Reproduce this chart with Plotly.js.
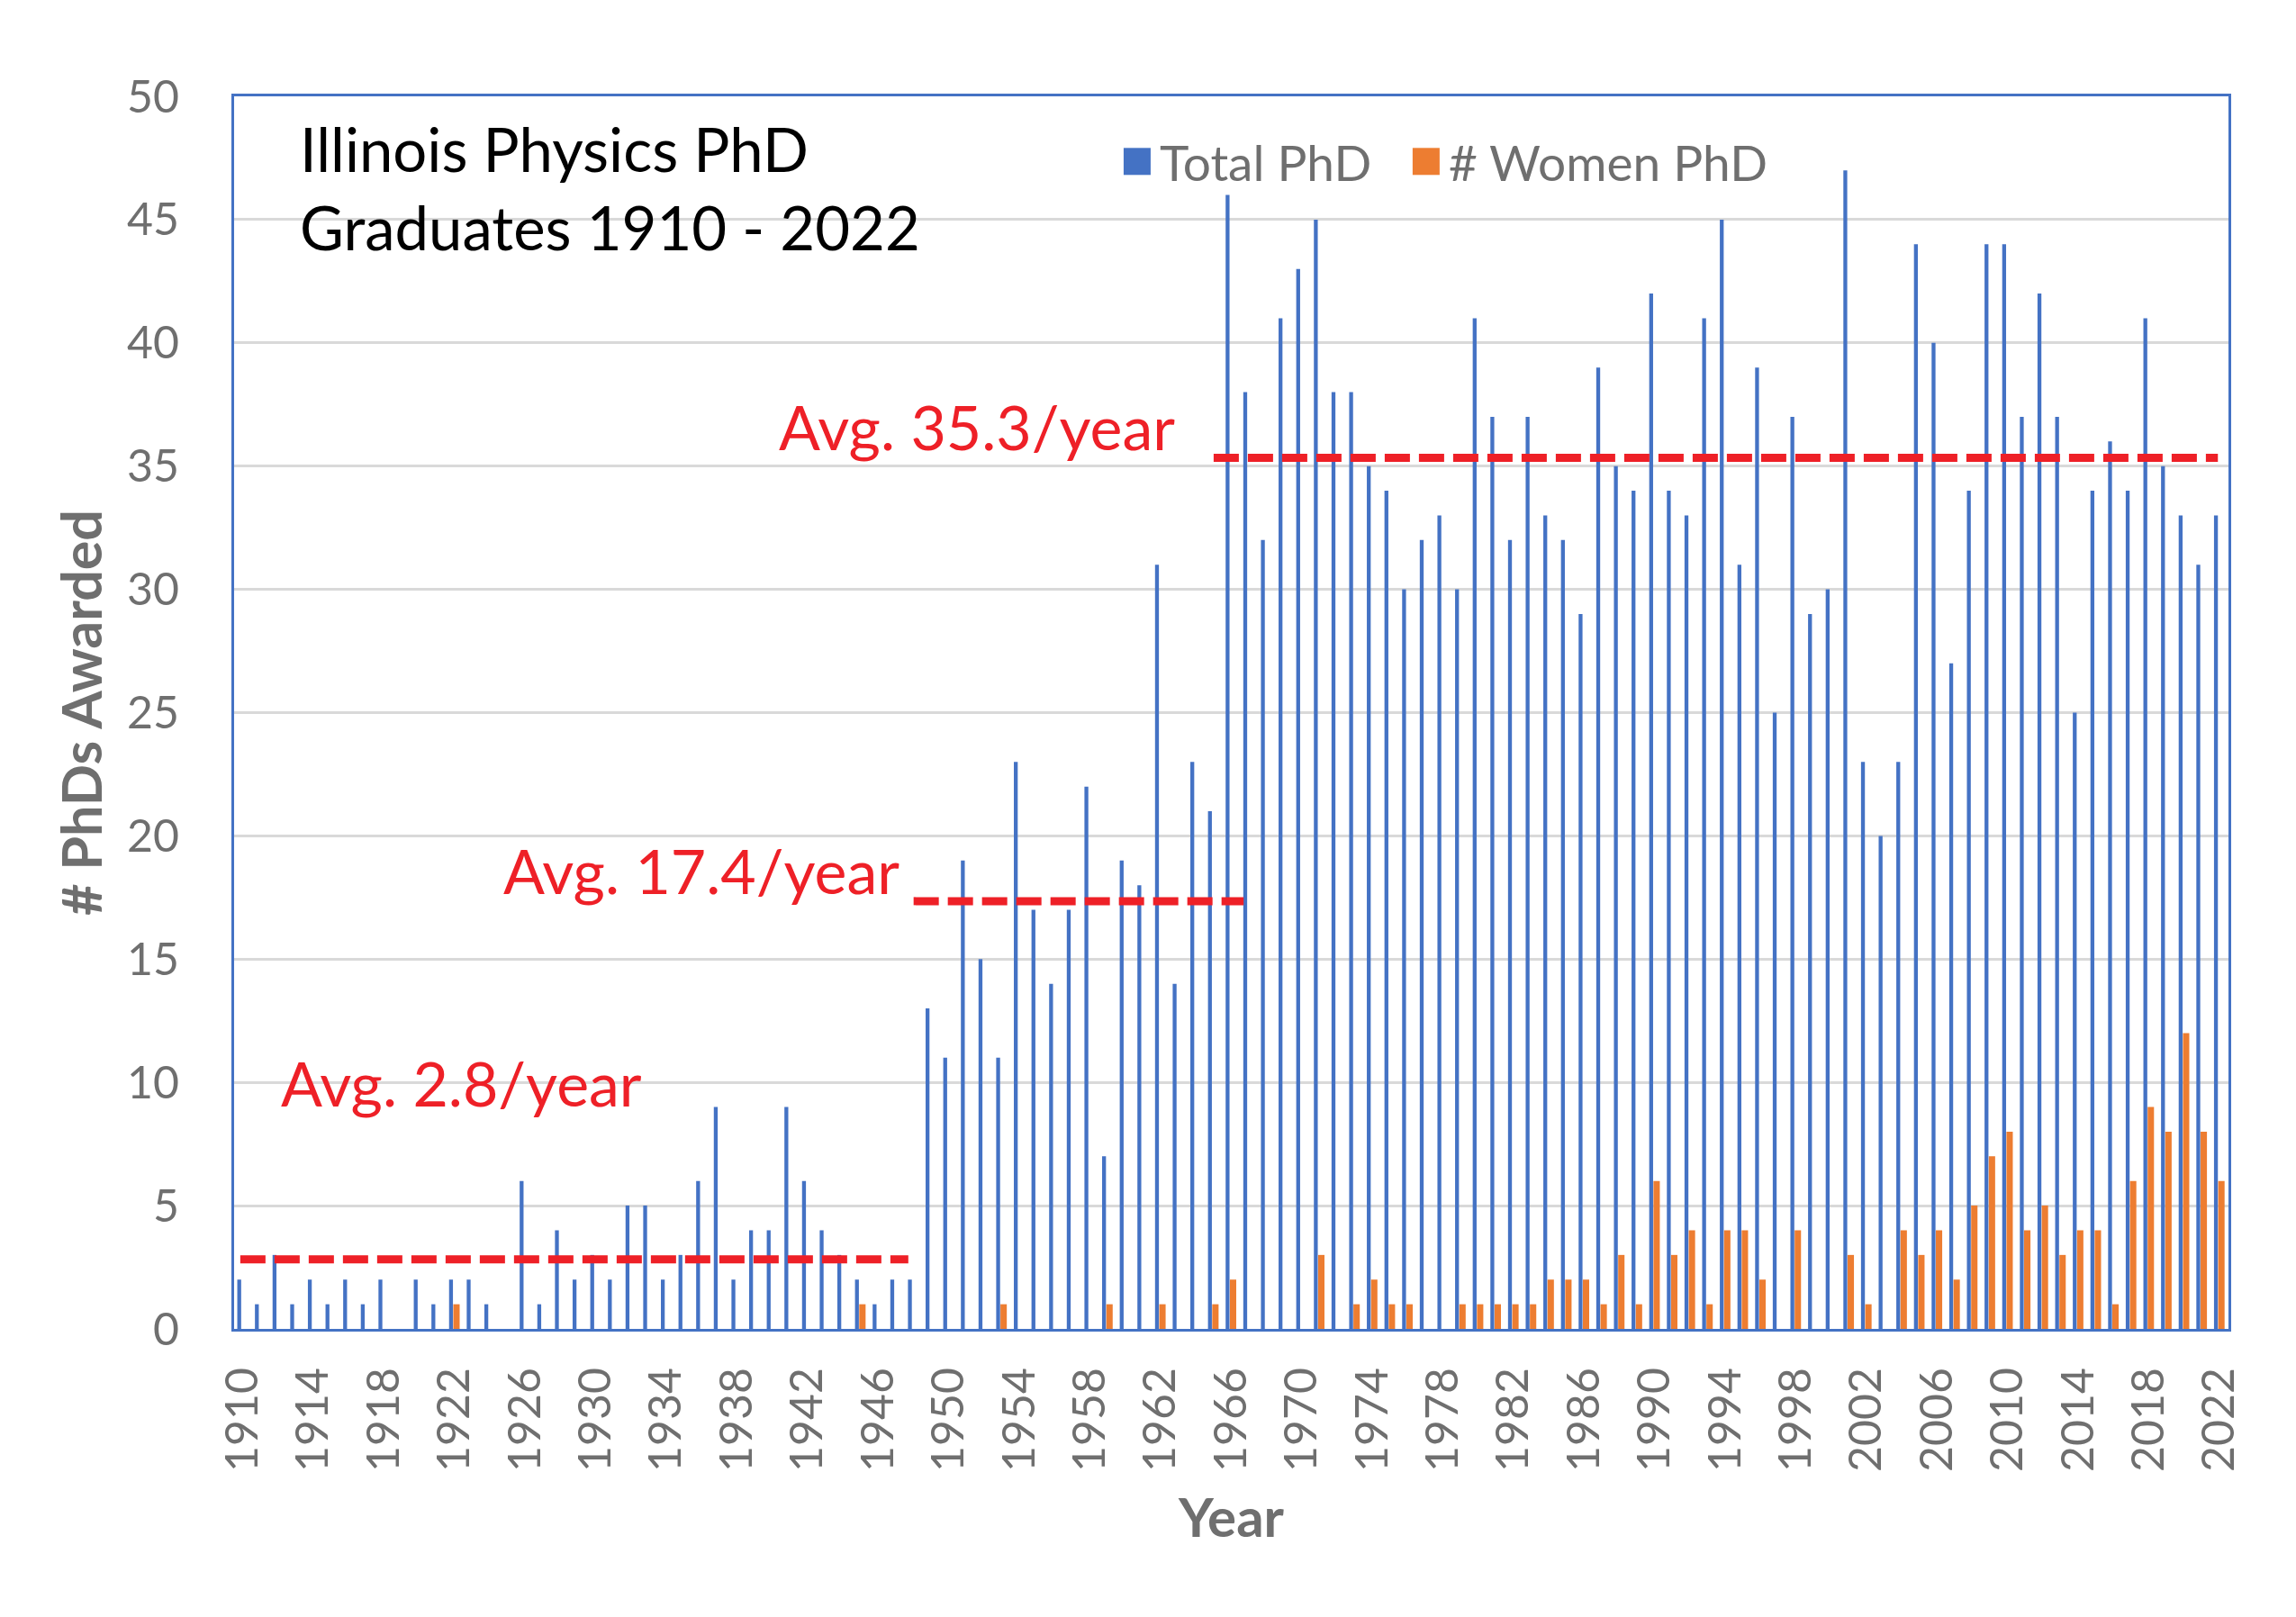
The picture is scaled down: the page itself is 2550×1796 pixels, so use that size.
<!DOCTYPE html>
<html>
<head>
<meta charset="utf-8">
<script src="https://cdn.plot.ly/plotly-3.0.1.min.js"></script>
<style>
  html, body { margin: 0; padding: 0; background: #fff; }
  #chart { width: 2550px; height: 1796px; }
</style>
</head>
<body>
<div id="chart"></div>
<script>
// Illinois Physics PhD graduates per year
var years = [
  1910, 1911, 1912, 1913, 1914, 1915, 1916, 1917, 1918, 1919,
  1920, 1921, 1922, 1923, 1924, 1925, 1926, 1927, 1928, 1929,
  1930, 1931, 1932, 1933, 1934, 1935, 1936, 1937, 1938, 1939,
  1940, 1941, 1942, 1943, 1944, 1945, 1946, 1947, 1948, 1949,
  1950, 1951, 1952, 1953, 1954, 1955, 1956, 1957, 1958, 1959,
  1960, 1961, 1962, 1963, 1964, 1965, 1966, 1967, 1968, 1969,
  1970, 1971, 1972, 1973, 1974, 1975, 1976, 1977, 1978, 1979,
  1980, 1981, 1982, 1983, 1984, 1985, 1986, 1987, 1988, 1989,
  1990, 1991, 1992, 1993, 1994, 1995, 1996, 1997, 1998, 1999,
  2000, 2001, 2002, 2003, 2004, 2005, 2006, 2007, 2008, 2009,
  2010, 2011, 2012, 2013, 2014, 2015, 2016, 2017, 2018, 2019,
  2020, 2021, 2022
];

var totalPhD = [
  2, 1, 3, 1, 2, 1, 2, 1, 2, 0,
  2, 1, 2, 2, 1, 0, 6, 1, 4, 2,
  3, 2, 5, 5, 2, 3, 6, 9, 2, 4,
  4, 9, 6, 4, 3, 2, 1, 2, 2, 13,
  11, 19, 15, 11, 23, 17, 14, 17, 22, 7,
  19, 18, 31, 14, 23, 21, 46, 38, 32, 41,
  43, 45, 38, 38, 35, 34, 30, 32, 33, 30,
  41, 37, 32, 37, 33, 32, 29, 39, 35, 34,
  42, 34, 33, 41, 45, 31, 39, 25, 37, 29,
  30, 47, 23, 20, 23, 44, 40, 27, 34, 44,
  44, 37, 42, 37, 25, 34, 36, 34, 41, 35,
  33, 31, 33
];

var womenPhD = [
  0, 0, 0, 0, 0, 0, 0, 0, 0, 0,
  0, 0, 1, 0, 0, 0, 0, 0, 0, 0,
  0, 0, 0, 0, 0, 0, 0, 0, 0, 0,
  0, 0, 0, 0, 0, 1, 0, 0, 0, 0,
  0, 0, 0, 1, 0, 0, 0, 0, 0, 1,
  0, 0, 1, 0, 0, 1, 2, 0, 0, 0,
  0, 3, 0, 1, 2, 1, 1, 0, 0, 1,
  1, 1, 1, 1, 2, 2, 2, 1, 3, 1,
  6, 3, 4, 1, 4, 4, 2, 0, 4, 0,
  0, 3, 1, 0, 4, 3, 4, 2, 5, 7,
  8, 4, 5, 3, 4, 4, 1, 6, 9, 8,
  12, 8, 6
];

// eras used for the dashed average lines
var eraStart = [1910, 1949, 1966];
var eraEnd = [1948, 1965, 2022];

var FONT = 'Lato, "Open Sans", sans-serif';
var GREY = '#6f6f6f';
var RED = '#ee2027';

function eraAverage(i) {
  var sum = 0, n = 0;
  for (var k = 0; k < years.length; k++) {
    if (years[k] >= eraStart[i] && years[k] <= eraEnd[i]) {
      sum += totalPhD[k];
      n++;
    }
  }
  return sum / n;
}

var avgs = [eraAverage(0), eraAverage(1), eraAverage(2)];

// where each dashed line starts/stops and where its label sits (data units)
var lineFrom = [1909.85, 1948.0, 1965.0];
var lineTo = [1947.7, 1966.7, 2021.9];
var labelX = [1922.4, 1936.0, 1951.6];
var labelY = [10.0, 18.6, 36.6];

var trace1 = {
  x: years,
  y: totalPhD,
  name: 'Total PhD',
  type: 'bar',
  width: 0.22,
  offset: -0.32,
  marker: {color: '#4472c4'},
  legend: 'legend'
};

var trace2 = {
  x: years,
  y: womenPhD,
  name: '# Women PhD',
  type: 'bar',
  width: 0.36,
  offset: -0.08,
  marker: {color: '#ed7d31'},
  legend: 'legend2'
};

var shapes = [];
var annotations = [];
for (var i = 0; i < 3; i++) {
  shapes.push({
    type: 'line', xref: 'x', yref: 'y', layer: 'above',
    x0: lineFrom[i], x1: lineTo[i], y0: avgs[i], y1: avgs[i],
    line: {color: RED, width: 9, dash: '28px,10px'}
  });
  annotations.push({
    xref: 'x', yref: 'y', x: labelX[i], y: labelY[i],
    xanchor: 'center', yanchor: 'middle', showarrow: false,
    text: 'Avg. ' + avgs[i].toFixed(1) + '/year',
    font: {family: FONT, size: 68, color: RED}
  });
}

annotations.push({
  xref: 'paper', yref: 'paper', x: 0.032, y: 0.988,
  xanchor: 'left', yanchor: 'top', align: 'left', showarrow: false,
  text: 'Illinois Physics PhD<br>Graduates 1910 - 2022',
  font: {family: FONT, size: 67, color: '#000000'}
});

var legendStyle = {
  orientation: 'h',
  y: 0.947,
  xanchor: 'left', yanchor: 'middle',
  itemwidth: 40,
  font: {family: FONT, size: 55, color: GREY},
  bgcolor: 'rgba(0,0,0,0)'
};

var layout = {
  width: 2550,
  height: 1796,
  margin: {l: 260, r: 75, t: 107, b: 320},
  paper_bgcolor: '#ffffff',
  plot_bgcolor: '#ffffff',
  barmode: 'overlay',
  font: {family: FONT, color: GREY},
  showlegend: true,
  legend: Object.assign({x: 0.4415}, legendStyle),
  legend2: Object.assign({x: 0.5864}, legendStyle),
  xaxis: {
    range: [1909.5, 2022.5],
    tickmode: 'array',
    tickvals: [1910, 1914, 1918, 1922, 1926, 1930, 1934, 1938, 1942, 1946, 1950,
               1954, 1958, 1962, 1966, 1970, 1974, 1978, 1982, 1986, 1990, 1994,
               1998, 2002, 2006, 2010, 2014, 2018, 2022],
    tickangle: -90,
    tickfont: {family: FONT, size: 50, color: GREY},
    ticklabelstandoff: 20,
    showgrid: false,
    zeroline: false,
    showline: true,
    mirror: true,
    linecolor: '#4472c4',
    linewidth: 3,
    title: {
      text: 'Year',
      standoff: 31,
      font: {family: FONT, size: 60, color: GREY, weight: 'bold'}
    }
  },
  yaxis: {
    range: [0, 50],
    dtick: 5,
    tickfont: {family: FONT, size: 50, color: GREY},
    ticklabelstandoff: 48,
    showgrid: true,
    gridcolor: '#d9d9d9',
    gridwidth: 3,
    zeroline: false,
    showline: true,
    mirror: true,
    linecolor: '#4472c4',
    linewidth: 3,
    title: {
      text: '# PhDs Awarded',
      standoff: 8,
      font: {family: FONT, size: 61, color: GREY, weight: 'bold'}
    }
  },
  shapes: shapes,
  annotations: annotations
};

Plotly.newPlot('chart', [trace1, trace2], layout, {displayModeBar: false, staticPlot: true}).then(function () {
  // Excel-sized square legend swatches
  document.querySelectorAll('.legendpoints path').forEach(function (p) {
    p.setAttribute('d', 'M15,15H-15V-15H15Z');
  });
});
</script>
</body>
</html>
